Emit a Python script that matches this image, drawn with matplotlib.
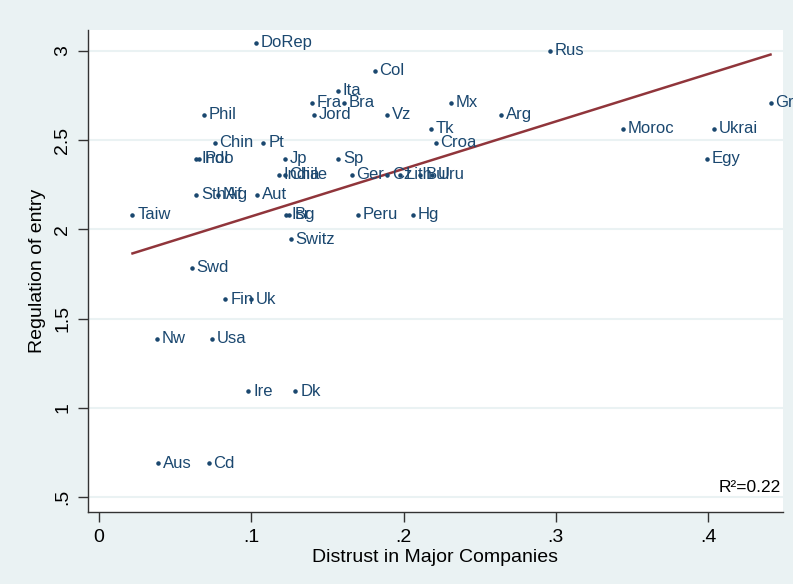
import numpy as np
import matplotlib
matplotlib.use("Agg")
import matplotlib.pyplot as plt

plt.rcParams['font.family'] = ['Liberation Sans', 'DejaVu Sans']

# =========================
# DATA
# =========================
countries = ["DoRep", "Rus", "Col", "Ita", "Fra", "Bra", "Mx", "Gr",
             "Phil", "Jord", "Vz", "Arg", "Tk", "Moroc", "Ukrai",
             "Chin", "Pt", "Croa", "Indo", "Pol", "Jp", "Sp", "Egy",
             "India", "Chile", "Ger", "Cz", "Lith", "Bul", "Uru",
             "SthAf", "Nig", "Aut", "Taiw", "Isr", "Bg", "Peru", "Hg",
             "Switz", "Swd", "Fin", "Uk", "Nw", "Usa", "Ire", "Dk",
             "Aus", "Cd"]
distrust = [0.103, 0.296, 0.181, 0.157, 0.140, 0.161, 0.231, 0.441,
            0.069, 0.141, 0.189, 0.264, 0.218, 0.344, 0.404,
            0.076, 0.108, 0.221, 0.064, 0.066, 0.122, 0.157, 0.399,
            0.118, 0.122, 0.166, 0.189, 0.198, 0.211, 0.219,
            0.064, 0.078, 0.104, 0.022, 0.123, 0.125, 0.170, 0.206,
            0.126, 0.061, 0.083, 0.100, 0.038, 0.074, 0.098, 0.129,
            0.039, 0.072]
regulation = [3.045, 3.0, 2.888, 2.776, 2.709, 2.709, 2.709, 2.709,
              2.641, 2.641, 2.641, 2.641, 2.563, 2.563, 2.563,
              2.484, 2.484, 2.484, 2.395, 2.395, 2.395, 2.395, 2.395,
              2.305, 2.305, 2.305, 2.305, 2.305, 2.305, 2.305,
              2.193, 2.193, 2.193, 2.081, 2.081, 2.081, 2.081, 2.081,
              1.946, 1.784, 1.610, 1.610, 1.386, 1.386, 1.094, 1.094,
              0.690, 0.690]
r2_text = "R²=0.22"

xticks = [0, 0.1, 0.2, 0.3, 0.4]
xticklabels = ["0", ".1", ".2", ".3", ".4"]
yticks = [0.5, 1, 1.5, 2, 2.5, 3]
yticklabels = [".5", "1", "1.5", "2", "2.5", "3"]

# =========================
# STYLE
# =========================
bg = "#eaf2f3"
navy = "#1a476f"
maroon = "#90353b"

fig = plt.figure(figsize=(7.93, 5.84), dpi=100, facecolor=bg)
ax = fig.add_axes([0.111, 0.123, 0.876, 0.826])
ax.set_facecolor("white")

x = np.array(distrust)
y = np.array(regulation)

# grid lines first
for t in yticks:
    ax.axhline(t, color=bg, lw=1.5, zorder=0)

ax.scatter(x, y, s=5, color=navy, zorder=3)
for name, xi, yi in zip(countries, distrust, regulation):
    ax.annotate(name, (xi, yi), xytext=(3.5, 0), textcoords="offset points",
                va="center", ha="left", fontsize=12, color=navy,
                annotation_clip=False)

# fitted line
b, a = np.polyfit(x, y, 1)
xs = np.array([x.min(), x.max()])
ax.plot(xs, a + b * xs, color=maroon, lw=1.8, zorder=2)

ax.text(0.997, 0.035, r2_text, transform=ax.transAxes, ha="right",
        va="bottom", fontsize=12.5, color="black")

ax.set_xlim(-0.0072, 0.449)
ax.set_ylim(0.416, 3.118)
ax.set_xticks(xticks)
ax.set_xticklabels(xticklabels)
ax.set_yticks(yticks)
ax.set_yticklabels(yticklabels, rotation=90, va="center")
ax.tick_params(axis="both", direction="out", length=7, width=1,
               color="#333333", labelsize=14, pad=5)

for s in ["top", "right"]:
    ax.spines[s].set_visible(False)
for s in ["left", "bottom"]:
    ax.spines[s].set_color("#333333")
    ax.spines[s].set_linewidth(1)

ax.set_xlabel("Distrust in Major Companies", fontsize=14, labelpad=2)
ax.set_ylabel("Regulation of entry", fontsize=14, labelpad=6)

plt.savefig("out.png", dpi=100, facecolor=bg)
plt.close()
